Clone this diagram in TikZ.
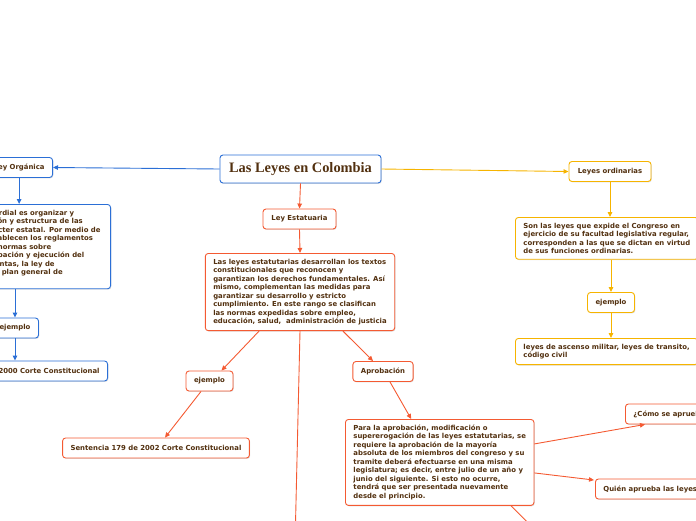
\documentclass[tikz,border=0pt]{standalone}
\usepackage{fontspec}
\setmainfont{DejaVu Sans}
\newfontfamily\titlefont{Liberation Serif}
\usetikzlibrary{arrows.meta,calc,shadows}
\definecolor{azul}{HTML}{2B6FD6}
\definecolor{naranja}{HTML}{F45A32}
\definecolor{amarillo}{HTML}{F6B400}
\definecolor{tinta}{HTML}{52300F}

\begin{document}
\begin{tikzpicture}[x=1pt, y=-1pt, >={Triangle[length=5pt,width=4.5pt]},
    caja/.style={draw, fill=white, rounded corners=3pt, line width=0.9pt, text=tinta,
      font=\fontsize{6.9}{8.5}\selectfont\bfseries, align=left, inner xsep=8pt, inner ysep=5.5pt,
      drop shadow={shadow xshift=0.8pt, shadow yshift=-0.9pt, opacity=0.25}},
    corta/.style={caja, align=center, minimum height=20pt},
    cazul/.style={draw=azul}, cnar/.style={draw=naranja}, camar/.style={draw=amarillo},
    lazul/.style={->, azul, line width=0.9pt},
    lnar/.style={->, naranja, line width=0.9pt},
    lamar/.style={->, amarillo, line width=0.9pt}]
  \useasboundingbox (0,0) rectangle (696,520);

  % centro
  \node[corta, cazul, minimum height=28pt, minimum width=161pt, inner xsep=0pt,
    font=\titlefont\bfseries\fontsize{14.4}{16}\selectfont] (titulo) at (300.5,169) {Las Leyes en Colombia};

  % rama azul
  \node[corta, cazul, anchor=east] (organica) at (53,167.5) {Ley Orgánica};
  \node[caja, cazul, anchor=north east, inner xsep=10pt] (orgtexto) at (111,204) {La finalidad primordial es organizar y\\
    regular la operación y estructura de las\\
    entidades de carácter estatal. Por medio de\\
    estas leyes se establecen los reglamentos\\
    del Congreso, las normas sobre\\
    preparación, aprobación y ejecución del\\
    presupuesto de rentas, la ley de\\
    apropiaciones y el plan general de\\
    desarrollo.};
  \node[corta, cazul] (ejemplo1) at (15,328) {ejemplo};
  \node[corta, cazul, anchor=east] (sentencia1) at (108,371) {Sentencia C-579 de 2000 Corte Constitucional};

  % rama naranja
  \node[corta, cnar, minimum width=73pt] (estatuaria) at (299.5,219) {Ley Estatuaria};
  \node[caja, cnar, anchor=north] (esttexto) at (300,253) {Las leyes estatutarias desarrollan los textos\\
    constitucionales que reconocen y\\
    garantizan los derechos fundamentales. Así\\
    mismo, complementan las medidas para\\
    garantizar su desarrollo y estricto\\
    cumplimiento. En este rango se clasifican\\
    las normas expedidas sobre empleo,\\
    educación, salud,\ \ administración de justicia};
  \node[corta, cnar] (ejemplo2) at (209.5,381) {ejemplo};
  \node[corta, cnar] (sentencia2) at (156,448) {Sentencia 179 de 2002 Corte Constitucional};
  \node[corta, cnar] (aprobacion) at (383,371.5) {Aprobación};
  \node[caja, cnar, anchor=north west] (aprotexto) at (345,419) {Para la aprobación, modificación o\\
    supererogación de las leyes estatutarias, se\\
    requiere la aprobación de la mayoría\\
    absoluta de los miembros del congreso y su\\
    tramite deberá efectuarse en una misma\\
    legislatura; es decir, entre julio de un año y\\
    junio del siguiente. Si esto no ocurre,\\
    tendrá que ser presentada nuevamente\\
    desde el principio.};
  \node[corta, cnar, anchor=west] (como) at (625,414) {¿Cómo se aprueba?};
  \node[corta, cnar, anchor=west] (quien) at (595,489) {Quién aprueba las leyes estatutarias};
  \coordinate (abajo1) at (295,545);
  \coordinate (abajo2) at (545,540);

  % rama amarilla
  \node[corta, camar, minimum width=82pt] (ordinarias) at (610,171.5) {Leyes ordinarias};
  \node[caja, camar, anchor=north west] (ordtexto) at (515,217) {Son las leyes que expide el Congreso en\\
    ejercicio de su facultad legislativa regular,\\
    corresponden a las que se dictan en virtud\\
    de sus funciones ordinarias.};
  \node[corta, camar] (ejemplo3) at (611,302.5) {ejemplo};
  \node[caja, camar, anchor=north west] (ordejemplo) at (515,338) {leyes de ascenso militar, leyes de transito,\\
    código civil};

  % conectores
  \draw[lazul] (titulo.west) -- (organica.east);
  \draw[lazul] (organica.south) -- (organica.south |- orgtexto.north);
  \draw[lazul] (ejemplo1.north |- orgtexto.south) -- (ejemplo1.north);
  \draw[lazul] (ejemplo1.south) -- (ejemplo1.south |- sentencia1.north);

  \draw[lnar] (titulo.south) -- (estatuaria.north);
  \draw[lnar] (estatuaria.south) -- (esttexto.north);
  \draw[lnar] ($(esttexto.south)+(-41,0)$) -- ($(ejemplo2.north)+(12,0)$);
  \draw[naranja, line width=0.9pt] (esttexto.south) -- (abajo1);
  \draw[lnar] ($(esttexto.south)+(43,0)$) -- ($(aprobacion.north)+(-10,0)$);
  \draw[lnar] ($(ejemplo2.south)+(-8.5,0)$) -- ($(sentencia2.north)+(9,0)$);
  \draw[lnar] ($(aprobacion.south)+(7,0)$) -- ($(aprotexto.north)+(-28.5,0)$);
  \draw[lnar] ($(aprotexto.east)+(0,-18.5)$) -- ($(como.south west)+(20,0)$);
  \draw[lnar] ($(aprotexto.east)+(0,10.5)$) -- ($(quien.north west)+(-1,1.5)$);
  \draw[naranja, line width=0.9pt] ($(aprotexto.south)+(71.5,0)$) -- (abajo2);

  \draw[lamar] (titulo.east) -- (ordinarias.west);
  \draw[lamar] (ordinarias.south) -- (ordinarias.south |- ordtexto.north);
  \draw[lamar] (ejemplo3.north |- ordtexto.south) -- (ejemplo3.north);
  \draw[lamar] (ejemplo3.south) -- (ejemplo3.south |- ordejemplo.north);
\end{tikzpicture}
\end{document}
